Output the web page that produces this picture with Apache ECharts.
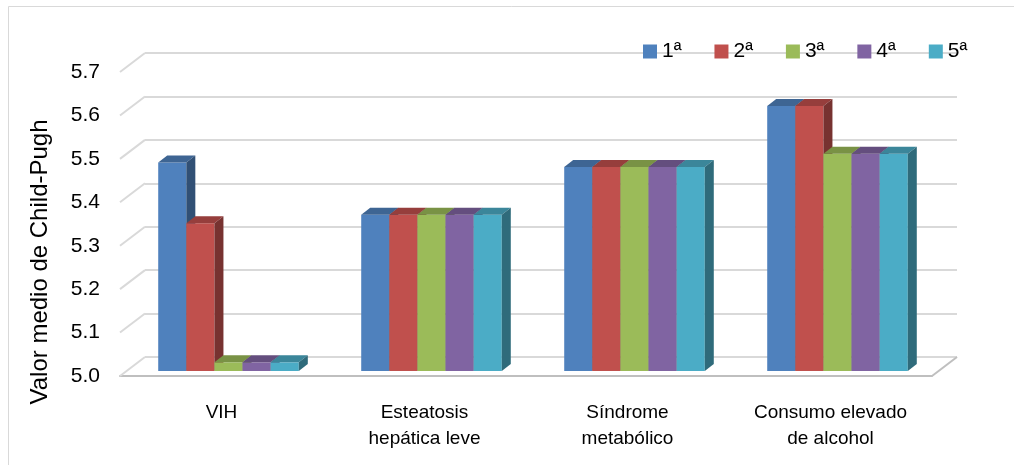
<!DOCTYPE html>
<html>
<head>
<meta charset="utf-8">
<script src="https://cdn.jsdelivr.net/npm/echarts@6/dist/echarts.min.js"></script>
<style>
  html, body { margin: 0; padding: 0; background: #fff; }
  #chart { width: 1014px; height: 465px; }
</style>
</head>
<body>
<div id="chart"></div>
<script>
// Categories and series values (mean Child-Pugh score per visit)
const categories = ['VIH', 'Esteatosis\nhepática leve', 'Síndrome\nmetabólico', 'Consumo elevado\nde alcohol'];
const seriesNames = ['1ª', '2ª', '3ª', '4ª', '5ª'];
const visit1 = [5.48, 5.36, 5.47, 5.61];
const visit2 = [5.34, 5.36, 5.47, 5.61];
const visit3 = [5.02, 5.36, 5.47, 5.50];
const visit4 = [5.02, 5.36, 5.47, 5.50];
const visit5 = [5.02, 5.36, 5.47, 5.50];
const yTicks = [5.0, 5.1, 5.2, 5.3, 5.4, 5.5, 5.6, 5.7];
const yTitle = 'Valor medio de Child-Pugh';

const Y_MIN = 5.0, Y_MAX = 5.7, Y_STEP = 0.1;
const FONT = '"Liberation Sans", Arial, sans-serif';
const colors = ['#4F81BD', '#C0504D', '#9BBB59', '#8064A2', '#4BACC6'];

// oblique projection of the depth axis
const WALL_DX = 25, WALL_DY = -19;     // front plane -> back wall
const BAR_DX = 7, BAR_DY = -5;         // front plane -> bar front faces
const DEPTH_DX = 9, DEPTH_DY = -7;     // bar depth
const BAR_FRAC = 0.1385;               // bar width as a fraction of the category band

function shade(hex, k) {
  const n = parseInt(hex.slice(1), 16);
  const r = Math.round(((n >> 16) & 255) * k);
  const g = Math.round(((n >> 8) & 255) * k);
  const b = Math.round((n & 255) * k);
  return 'rgb(' + r + ',' + g + ',' + b + ')';
}

function barRenderer(k) {
  const front = colors[k], topC = shade(colors[k], 0.78), sideC = shade(colors[k], 0.62);
  return function (params, api) {
    const cat = api.value(0), val = api.value(1);
    const top = api.coord([cat, val]);
    const base = api.coord([cat, Y_MIN]);
    const band = api.size([1, 0])[0];
    const w = band * BAR_FRAC;
    const x0 = top[0] + BAR_DX + (k - 2.5) * w;
    const yT = top[1] + BAR_DY, yB = base[1] + BAR_DY;
    const dx = DEPTH_DX, dy = DEPTH_DY;
    return {
      type: 'group',
      children: [
        { type: 'rect', shape: { x: x0, y: yT, width: w, height: yB - yT }, style: { fill: front } },
        { type: 'polygon', shape: { points: [[x0, yT], [x0 + dx, yT + dy], [x0 + w + dx, yT + dy], [x0 + w, yT]] }, style: { fill: topC } },
        { type: 'polygon', shape: { points: [[x0 + w, yT], [x0 + w + dx, yT + dy], [x0 + w + dx, yB + dy], [x0 + w, yB]] }, style: { fill: sideC } }
      ]
    };
  };
}

// side wall and floor edges joining the front plane to the back wall
function edgeRenderer(params, api) {
  const v = api.value(0);
  const y = api.coord([0, v])[1];
  const cs = params.coordSys;
  const children = [{
    type: 'line',
    shape: { x1: cs.x, y1: y, x2: cs.x + WALL_DX, y2: y + WALL_DY },
    style: { stroke: '#D9D9D9', lineWidth: 2 }
  }];
  if (v === Y_MIN) {
    children.push({
      type: 'line',
      shape: { x1: cs.x + cs.width, y1: y, x2: cs.x + cs.width + WALL_DX, y2: y + WALL_DY },
      style: { stroke: '#BFBFBF', lineWidth: 2 }
    });
  }
  return { type: 'group', children: children };
}

const allValues = [visit1, visit2, visit3, visit4, visit5];

const barSeries = allValues.map(function (vals, k) {
  return {
    name: seriesNames[k],
    type: 'custom',
    xAxisIndex: 0,
    yAxisIndex: 0,
    itemStyle: { color: colors[k] },
    renderItem: barRenderer(k),
    encode: { x: 0, y: 1 },
    data: vals.map(function (v, i) { return [i, v]; }),
    z: 5
  };
});

const chart = echarts.init(document.getElementById('chart'), null, { renderer: 'canvas' });
chart.setOption({
  backgroundColor: '#fff',
  animation: false,
  graphic: [{
    type: 'rect',
    shape: { x: 8.5, y: 6.5, width: 1100, height: 500 },
    style: { fill: 'none', stroke: '#D9D9D9', lineWidth: 1 },
    z: 0
  }, {
    type: 'text',
    x: 40, y: 262,
    rotation: Math.PI / 2,
    style: {
      text: yTitle, fontFamily: FONT, fontSize: 24, fill: '#000',
      align: 'center', verticalAlign: 'middle'
    }
  }],
  legend: {
    data: seriesNames,
    left: 643,
    top: 41,
    padding: 0,
    icon: 'rect',
    itemWidth: 14,
    itemHeight: 14,
    itemGap: 33,
    textStyle: { fontFamily: FONT, fontSize: 21, color: '#000' }
  },
  grid: [
    { left: 120, right: 82, top: 72, bottom: 89 },
    { left: 120 + WALL_DX, right: 82 - WALL_DX, top: 72 + WALL_DY, bottom: 89 - WALL_DY }
  ],
  xAxis: [
    {
      type: 'category', gridIndex: 0, data: categories,
      axisLine: { show: true, lineStyle: { color: '#BFBFBF', width: 2 } },
      axisTick: { show: false },
      axisLabel: { fontFamily: FONT, fontSize: 19, color: '#000', margin: 24, lineHeight: 26, interval: 0 }
    },
    {
      type: 'category', gridIndex: 1, data: categories,
      axisLine: { show: false }, axisTick: { show: false }, axisLabel: { show: false }
    }
  ],
  yAxis: [
    {
      type: 'value', gridIndex: 0, min: Y_MIN, max: Y_MAX, interval: Y_STEP,
      axisLine: { show: false }, axisTick: { show: false }, splitLine: { show: false },
      axisLabel: {
        fontFamily: FONT, fontSize: 21, color: '#000', margin: 20,
        formatter: function (v) { return v.toFixed(1); }
      }
    },
    {
      type: 'value', gridIndex: 1, min: Y_MIN, max: Y_MAX, interval: Y_STEP,
      axisLine: { show: false }, axisTick: { show: false }, axisLabel: { show: false },
      splitLine: { show: true, lineStyle: { color: '#D9D9D9', width: 2 } },
      z: 0
    }
  ],
  series: [{
    type: 'custom',
    name: 'edges',
    xAxisIndex: 0,
    yAxisIndex: 0,
    renderItem: edgeRenderer,
    encode: { y: 0 },
    data: yTicks.map(function (v) { return [v]; }),
    silent: true,
    z: 1
  }].concat(barSeries)
});
</script>
</body>
</html>
